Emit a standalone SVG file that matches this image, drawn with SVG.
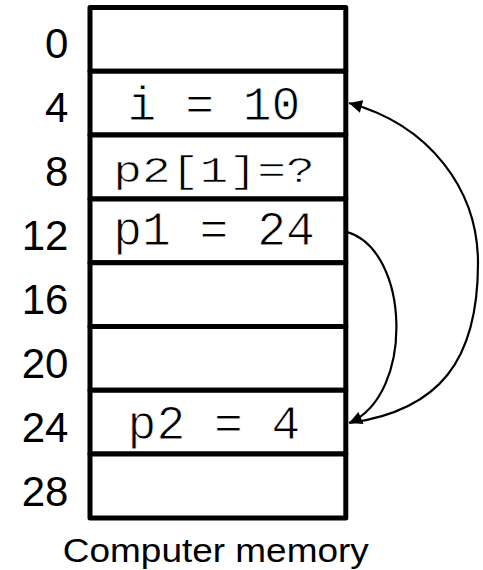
<svg xmlns="http://www.w3.org/2000/svg" width="483" height="570" viewBox="0 0 483 570">
<style>
.cell{fill:#fff;stroke:#000;stroke-width:5;stroke-linejoin:round}
.addr{font-family:"Liberation Sans",Arial,sans-serif;font-size:42px;fill:#000;text-anchor:end}
.val{font-family:"Liberation Mono","Courier New",monospace;font-size:48px;fill:#000;text-anchor:middle;stroke:#fff;stroke-width:0.9}
.cap{font-family:"Liberation Sans",Arial,sans-serif;font-size:33px;fill:#000;text-anchor:middle}
.link{fill:none;stroke:#000;stroke-width:2.2}
</style>
<defs>
<marker id="ah" markerUnits="userSpaceOnUse" markerWidth="14" markerHeight="13" refX="13" refY="6.5" orient="auto" overflow="visible">
<path d="M0,0 L13,6.5 L0,13 z" fill="#000"/>
</marker>
</defs>
<rect width="483" height="570" fill="#fff"/>
<g id="cell0"><rect class="cell" x="90" y="7.5" width="255.8" height="63.8"/><text class="addr" x="68.4" y="58.3">0</text></g>
<g id="cell4"><rect class="cell" x="90" y="71.3" width="255.8" height="63.8"/><text class="addr" x="68.4" y="122.3">4</text><text class="val" x="214" y="120">i = 10</text></g>
<g id="cell8"><rect class="cell" x="90" y="135.1" width="255.8" height="63.8"/><text class="addr" x="68.4" y="186.3">8</text><text class="val" transform="translate(214 181.7) scale(1 0.77)">p2[1]=?</text></g>
<g id="cell12"><rect class="cell" x="90" y="198.9" width="255.8" height="63.8"/><text class="addr" x="68.4" y="250.3">12</text><text class="val" x="214" y="245">p1 = 24</text></g>
<g id="cell16"><rect class="cell" x="90" y="262.7" width="255.8" height="63.8"/><text class="addr" x="68.4" y="314.3">16</text></g>
<g id="cell20"><rect class="cell" x="90" y="326.5" width="255.8" height="63.8"/><text class="addr" x="68.4" y="378.3">20</text></g>
<g id="cell24"><rect class="cell" x="90" y="390.3" width="255.8" height="63.8"/><text class="addr" x="68.4" y="442.3">24</text><text class="val" x="214" y="439.3">p2 = 4</text></g>
<g id="cell28"><rect class="cell" x="90" y="454.1" width="255.8" height="63.8"/><text class="addr" x="68.4" y="506.3">28</text></g>
<g id="caption"><text class="cap" x="215.8" y="561.7" textLength="306" lengthAdjust="spacingAndGlyphs">Computer memory</text></g>
<g id="connectors">
<path class="link" d="M347,232 C410,250 415,395 349,423" marker-end="url(#ah)"/>
<path class="link" d="M350,423 C440,410 478,360 478,263 C478,190 430,125 349,103" marker-end="url(#ah)"/>
</g>
</svg>
